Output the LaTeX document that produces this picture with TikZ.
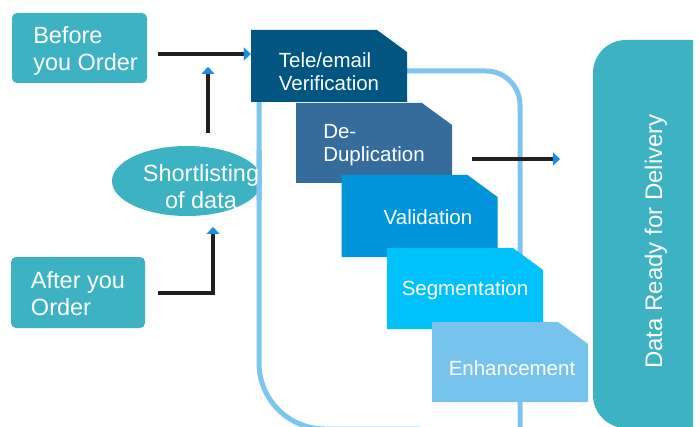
\documentclass[tikz,border=0pt]{standalone}
\usepackage{fontspec}
\setmainfont{Liberation Sans}
\usetikzlibrary{shapes.geometric,arrows.meta}
\definecolor{tealc}{RGB}{60,178,194}
\definecolor{cA}{RGB}{0,85,129}
\definecolor{cB}{RGB}{54,108,156}
\definecolor{cC}{RGB}{0,149,218}
\definecolor{cD}{RGB}{0,194,250}
\definecolor{cE}{RGB}{118,196,238}
\definecolor{loopc}{RGB}{125,196,238}
\definecolor{headc}{RGB}{24,144,222}
\definecolor{blackc}{RGB}{35,31,32}
\newcommand{\lpad}[1]{\hspace*{#1pt}}
\begin{document}
\begin{tikzpicture}[x=1pt,y=-1pt,
  stepbox/.style={inner sep=0pt, minimum width=156pt, text=white,
    font=\fontsize{20.5}{23}\selectfont,
    path picture={\fill[#1] (path picture bounding box.south west)
      -- (path picture bounding box.north west)
      -- ([xshift=-30pt]path picture bounding box.north east)
      -- ([yshift=-22pt]path picture bounding box.north east)
      -- (path picture bounding box.south east) -- cycle;}},
  tealbox/.style={fill=tealc, rounded corners=5pt, inner sep=0pt, text=white,
    align=left, font=\fontsize{23.5}{27}\selectfont},
  blk/.style={draw=blackc, line width=4.5pt,
    -{Triangle[length=7pt,width=13pt,color=headc,line width=0.1pt]}},
  loopline/.style={draw=loopc, line width=5pt}
]
\useasboundingbox (0,0) rectangle (700,427);
\clip (0,0) rectangle (700,427);

% ellipse (behind the loop line)
\node[ellipse, fill=tealc, minimum width=150pt, minimum height=70pt, inner sep=0pt] (short) at (187,181) {};

% big loop outline
\draw[loopline, rounded corners=34pt] (520,440) -- (520,71) -- (259,71) -- (259,200);
\draw[loopline, rounded corners=66pt] (259,150) -- (259,429) -- (420,429);

% left boxes
\node[tealbox, minimum width=135pt, minimum height=70pt, text height=50pt, text depth=4pt] (before) at (79.5,48)
  {\lpad{12}Before\\\lpad{12}you Order};
\node[tealbox, minimum width=134pt, minimum height=71pt, text height=48pt, text depth=3pt] (after) at (78,292.5)
  {After you\\Order};
\node[text=white, align=center, font=\fontsize{23.5}{27}\selectfont, inner sep=0pt, text height=59pt, text depth=3pt] (shorttxt) at ([xshift=14pt]short.center) {Shortlisting\\of data};

% step boxes
\node[stepbox=cA, minimum height=72pt, align=left, text height=50pt, text depth=1pt] (tele) at (329,66) {Tele/email\\Verification};
\node[stepbox=cB, minimum height=80pt, align=left, text height=40pt, text depth=3pt] (dedup) at (374,143) {De-\\Duplication};
\node[stepbox=cC, minimum height=82pt, text height=18pt, text depth=0pt] (valid) at (419.5,216) {\lpad{17}Validation};
\node[stepbox=cD, minimum height=81pt, text height=15pt, text depth=2pt] (segm) at (465,288.5) {Segmentation};
\node[stepbox=cE, minimum height=80pt, text height=26pt, text depth=0pt] (enh) at (510,362) {\lpad{4}Enhancement};

% delivery box
\fill[tealc, rounded corners=33pt] (693,40) -- (593,40) -- (593,428) -- (693,428);
\node[rotate=90, anchor=base, text=white, font=\fontsize{24}{28}\selectfont] (ready) at (662,241.5) {Data Ready for Delivery};

% connectors
\coordinate (p1) at (158,54);
\draw[blk] (p1) -- (tele.west |- p1);
\coordinate (p2) at (208,133);
\coordinate (p2e) at (208,67);
\draw[blk] (p2) -- (p2e);
\coordinate (p3) at (158,293);
\coordinate (p3e) at (213,227);
\draw[blk] (p3) -| (p3e);
\coordinate (p4) at (472,159);
\coordinate (p4e) at (560,159);
\draw[blk] (p4) -- (p4e);
\end{tikzpicture}
\end{document}
